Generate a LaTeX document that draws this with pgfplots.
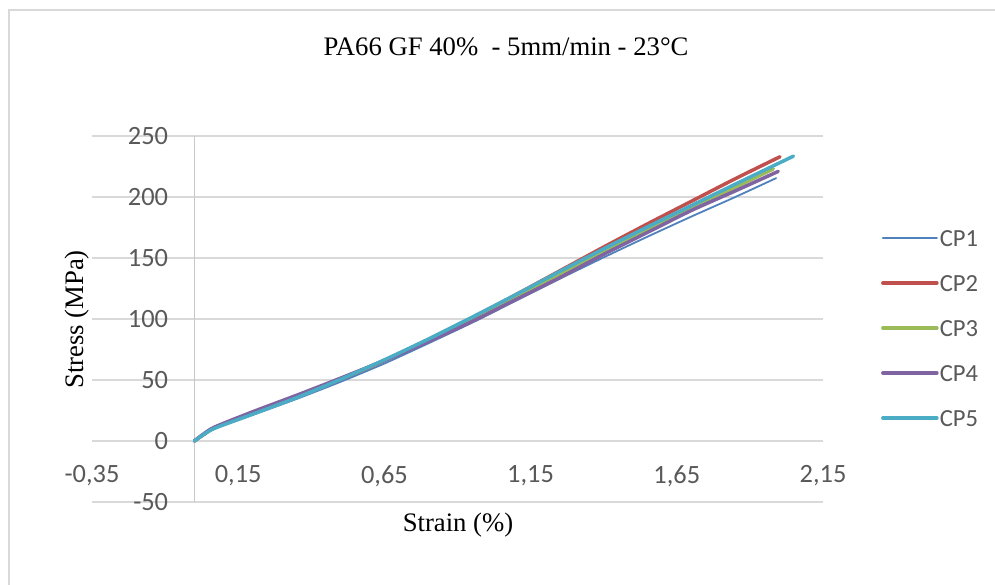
\documentclass[border=0pt]{standalone}
\usepackage{pgfplots}
\pgfplotsset{compat=1.18}
\usepackage{fontspec}
\setmainfont{Liberation Serif}
\newfontfamily\calibri{Carlito}
\definecolor{cpA}{HTML}{4F81BD}
\definecolor{cpB}{HTML}{C0504D}
\definecolor{cpC}{HTML}{9BBB59}
\definecolor{cpD}{HTML}{8064A2}
\definecolor{cpE}{HTML}{4BACC6}
\definecolor{gridc}{HTML}{D9D9D9}
\definecolor{axc}{HTML}{C8C8C8}
\definecolor{txt}{HTML}{595959}
\begin{document}
\begin{tikzpicture}
\useasboundingbox (0,0) rectangle (497.5bp,292.5bp);
\fill[white] (0,0) rectangle (497.5bp,292.5bp);
\draw[gridc, line width=0.7bp] (4.5bp,-1bp) -- (4.5bp,287.5bp) -- (499bp,287.5bp);
\node[anchor=base, font=\fontsize{13.35bp}{16bp}\selectfont] at (253bp,264.5bp) {PA66 GF 40\%\ \ - 5mm/min - 23°C};
\node[anchor=base, font=\fontsize{13.35bp}{16bp}\selectfont] at (229bp,27bp) {Strain (\%)};
\node[anchor=base, rotate=90, font=\fontsize{13.35bp}{16bp}\selectfont] at (41.5bp,132.75bp) {Stress (MPa)};
\begin{axis}[
  at={(46bp,41.5bp)}, anchor=south west,
  scale only axis, width=365.5bp, height=183bp,
  xmin=-0.35, xmax=2.15, ymin=-50, ymax=250,
  xtick={-0.35,0.15,0.65,1.15,1.65,2.15},
  xticklabels={{-0,35},{0,15},{0,65},{1,15},{1,65},{2,15}},
  ytick={-50,0,50,100,150,200,250},
  yticklabels={-50,0,50,100,150,200,250},
  major tick length=0pt,
  axis line style={draw=none},
  ymajorgrids, grid style={gridc, line width=0.65bp},
  ticklabel style={font=\calibri\fontsize{13.2bp}{15bp}\selectfont, text=txt, inner sep=0pt},
  xticklabel style={anchor=center, yshift=13bp},
  yticklabel style={anchor=east, xshift=38.25bp},
  legend style={at={(axis description cs:1.0790,0.4754)}, anchor=west, draw=none, fill=none,
    inner sep=0pt, row sep=14.5bp, column sep=0.6bp,
    nodes={inner sep=0pt, text height=8bp, text depth=0bp},
    font=\calibri\fontsize{12.3bp}{14bp}\selectfont, text=txt},
  legend cell align=left,
  legend image code/.code={\draw[#1] (0bp,0bp) -- (27bp,0bp);},
  every axis plot/.append style={line cap=round, line join=round, smooth, tension=0.4},
]
\draw[axc, line width=0.6bp] (axis cs:0,-50) -- (axis cs:0,250);
\addplot[cpA, line width=0.9bp] table {
x y
0 0
0.03 5
0.07 10.5
0.2 21.5
0.35 34.5
0.5 48.5
0.65 63.5
0.8 80
0.95 97
1.1 115
1.25 133
1.4 150.5
1.55 167.5
1.7 184
1.85 200
1.99 215.5
};
\addlegendentry{CP1}
\addplot[cpB, line width=1.75bp] table {
x y
0 0
0.03 5
0.07 11
0.2 22.5
0.35 36
0.5 50.5
0.65 66
0.8 83
0.95 101
1.1 120
1.25 139.5
1.4 159
1.55 178
1.7 196.5
1.85 215
2.003 233
};
\addlegendentry{CP2}
\addplot[cpC, line width=1.75bp] table {
x y
0 0
0.03 5
0.07 11
0.2 23
0.35 36.5
0.5 51
0.65 66
0.8 82.5
0.95 99.5
1.1 118
1.25 137
1.4 155.5
1.55 173.5
1.7 191
1.85 208
1.98 223
};
\addlegendentry{CP3}
\addplot[cpD, line width=1.75bp] table {
x y
0 0
0.03 5.5
0.07 11.5
0.2 24
0.35 37.5
0.5 51.5
0.65 66
0.8 81.5
0.95 98
1.1 116
1.25 134
1.4 153
1.55 171
1.7 189
1.85 205
1.997 221
};
\addlegendentry{CP4}
\addplot[cpE, line width=1.75bp] table {
x y
0 0
0.03 5
0.07 10.5
0.2 22
0.35 35.5
0.5 50.5
0.65 66.5
0.8 83.5
0.95 101.5
1.1 120
1.25 139
1.4 157.5
1.55 175.5
1.7 193
1.85 210.5
2.049 233.5
};
\addlegendentry{CP5}
\end{axis}
\end{tikzpicture}
\end{document}
